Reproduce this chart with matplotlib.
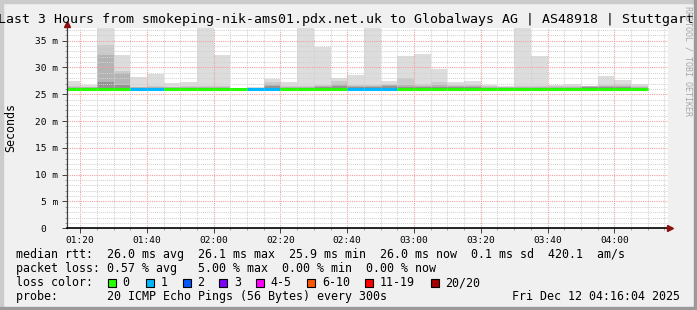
import matplotlib
matplotlib.use('Agg')
import matplotlib.pyplot as plt
from matplotlib.patches import Rectangle

# interval start times (5 min steps)
t_labels = ['01:15', '01:20', '01:25', '01:30', '01:35', '01:40', '01:45', '01:50', '01:55',
            '02:00', '02:05', '02:10', '02:15', '02:20', '02:25', '02:30', '02:35', '02:40',
            '02:45', '02:50', '02:55', '03:00', '03:05', '03:10', '03:15', '03:20', '03:25',
            '03:30', '03:35', '03:40', '03:45', '03:50', '03:55', '04:00', '04:05']

# median rtt (ms)
median = [26.0, 26.0, 26.0, 26.0, 25.9, 25.9, 26.0, 26.0, 26.0, 26.0, 25.9, 25.9, 25.9,
          26.0, 26.0, 26.0, 26.0, 25.9, 25.9, 25.9, 26.0, 26.0, 26.0, 26.0, 26.0, 26.0,
          26.0, 26.0, 26.0, 26.0, 26.0, 26.0, 26.0, 26.0, 26.0]

# lost pings per interval (index into loss colours)
loss = [0, 0, 0, 0, 1, 1, 0, 0, 0, 0, 0, 1, 1, 0, 0, 0, 0, 1, 1, 1,
        0, 0, 0, 0, 0, 0, 0, 0, 0, 0, 0, 0, 0, 0, 0]

# smoke bands (ms): min, outer top, upper, middle, core
smoke_min = [25.8, 25.8, 25.8, 25.8, 25.8, 25.8, 25.8, 25.8, 25.8, 25.8, 25.8, 25.8,
             25.8, 25.8, 25.8, 25.8, 25.8, 25.8, 25.8, 25.8, 25.8, 25.8, 25.8, 25.8,
             25.8, 25.8, 25.8, 25.8, 25.8, 25.8, 25.8, 25.8, 25.8, 25.8, 25.8]
smoke_max = [27.5, 26.7, 40.0, 32.3, 28.3, 28.7, 27.1, 27.2, 40.0, 32.3, 26.2, 26.3,
             27.8, 27.3, 40.0, 33.9, 28.1, 28.6, 40.0, 27.5, 32.1, 32.5, 29.8, 27.3,
             27.5, 26.7, 26.6, 40.0, 32.1, 26.7, 26.9, 26.6, 28.4, 27.7, 26.9]
smoke_hi = [26.6, 26.4, 34.2, 29.3, 26.4, 26.6, 26.4, 26.5, 26.6, 26.6, 26.1, 26.2,
            27.3, 26.6, 26.6, 26.7, 27.4, 26.8, 26.7, 27.0, 28.0, 26.9, 27.2, 26.7,
            26.8, 26.5, 26.4, 26.6, 26.6, 26.5, 26.6, 26.6, 26.8, 26.9, 26.6]
smoke_mid = [26.4, 26.3, 32.3, 29.0, 26.3, 26.4, 26.3, 26.3, 26.4, 26.4, 26.0, 26.1,
             26.9, 26.4, 26.4, 26.5, 27.0, 26.5, 26.5, 26.8, 26.8, 26.6, 26.8, 26.5,
             26.5, 26.4, 26.3, 26.4, 26.4, 26.4, 26.4, 26.5, 26.5, 26.6, 26.4]
smoke_core = [26.2, 26.1, 27.2, 26.7, 26.1, 26.2, 26.1, 26.1, 26.2, 26.2, 25.95, 26.0,
              26.5, 26.2, 26.2, 26.3, 26.5, 26.3, 26.3, 26.5, 26.4, 26.3, 26.4, 26.3,
              26.3, 26.2, 26.2, 26.2, 26.2, 26.2, 26.2, 26.4, 26.3, 26.3, 26.2]

loss_labels = ['0', '1', '2', '3', '4-5', '6-10', '11-19', '20/20']
loss_colors = ['#26ff00', '#00b8ff', '#0059ff', '#7e00ff', '#ff00ff', '#ff5500', '#ff0000', '#a00000']

x_ticks = ['01:20', '01:40', '02:00', '02:20', '02:40', '03:00', '03:20', '03:40', '04:00']
y_ticks = [0, 5, 10, 15, 20, 25, 30, 35]
y_ticklabels = ['0  ', '5 m', '10 m', '15 m', '20 m', '25 m', '30 m', '35 m']

title = 'Last 3 Hours from smokeping-nik-ams01.pdx.net.uk to Globalways AG | AS48918 | Stuttgart'
legend_lines = [
    'median rtt:  26.0 ms avg  26.1 ms max  25.9 ms min  26.0 ms now  0.1 ms sd  420.1  am/s',
    'packet loss: 0.57 % avg   5.00 % max  0.00 % min  0.00 % now',
    'loss color:',
    'probe:       20 ICMP Echo Pings (56 Bytes) every 300s',
]
stamp = 'Fri Dec 12 04:16:04 2025'


def to_min(s):
    h, m = s.split(':')
    return int(h) * 60 + int(m)


W, H = 697, 310
MONO = 'DejaVu Sans Mono'


def fx(x):
    return x / W


def fy(y):
    return 1 - y / H


fig = plt.figure(figsize=(W / 100, H / 100), dpi=100, facecolor='#f0f0f0')

# 3d frame
fig.patches.append(Rectangle((0, 0), fx(3), 1, transform=fig.transFigure, color='#cbcbcb'))
fig.patches.append(Rectangle((0, 1 - 3 / H), 1, 3 / H, transform=fig.transFigure, color='#cbcbcb'))
fig.patches.append(Rectangle((1 - 3 / W, 0), 3 / W, 1, transform=fig.transFigure, color='#9a9a9a'))
fig.patches.append(Rectangle((0, 0), 1, 3 / H, transform=fig.transFigure, color='#9a9a9a'))

x0, x1 = 67, 668
y0, y1 = 228.3, 28.3
ax = fig.add_axes([fx(x0), fy(y0), fx(x1 - x0), (y0 - y1) / H])
ax.set_facecolor('white')

starts = [to_min(s) for s in t_labels]
t_end = to_min('04:16') + 4 / 60.0
ax.set_xlim(t_end - 180, t_end)
ax.set_ylim(0, 37.3)

# smoke
layers = [(smoke_max, '#dddddd'), (smoke_hi, '#cacaca'), (smoke_mid, '#b4b4b4'), (smoke_core, '#939393')]
for tops, col in layers:
    heights = [t - b for t, b in zip(tops, smoke_min)]
    ax.bar(starts, heights, width=5, bottom=smoke_min, align='edge', color=col,
           linewidth=0, antialiased=False, zorder=1)

# median line coloured by loss
ax.hlines(median, starts, [s + 5 for s in starts], colors=[loss_colors[l] for l in loss],
          lw=2.2, zorder=4, capstyle='butt')

# grid
ax.set_xticks([to_min(s) for s in x_ticks])
ax.set_xticklabels(x_ticks)
ax.set_xticks(range(80, 256, 5), minor=True)
ax.set_yticks(y_ticks)
ax.set_yticklabels(y_ticklabels)
ax.set_yticks(range(0, 38), minor=True)
ax.set_axisbelow(False)
ax.grid(which='minor', color='#d2d2d2', lw=0.75, linestyle=(0, (1, 1)))
ax.grid(which='major', color='#f4a0a0', lw=0.8, linestyle=(0, (1, 1)))

for sp in ['top', 'right']:
    ax.spines[sp].set_visible(False)
ax.spines['left'].set_color('#404040')
ax.spines['bottom'].set_color('black')
ax.spines['left'].set_linewidth(0.9)
ax.spines['bottom'].set_linewidth(1.2)
ax.spines['left'].set_zorder(5)
ax.spines['bottom'].set_zorder(5)

ax.tick_params(which='major', length=3.5, width=0.7, color='#404040', pad=2,
               labelsize=6.8, labelfontfamily=MONO, labelcolor='black')
ax.tick_params(which='minor', length=1.5, width=0.6, color='#909090')
ax.tick_params(axis='y', which='major', pad=3)

# axis arrows
ax.plot([0], [1.02], marker='^', ms=5, color='#8b1010', transform=ax.transAxes, clip_on=False, zorder=6)
ax.plot([1.004], [0], marker='>', ms=5, color='#8b1010', transform=ax.transAxes, clip_on=False, zorder=6)

# texts
fig.text(fx(346.5), fy(19), title, family=MONO, fontsize=9.5, ha='center', va='center')
fig.text(fx(11), fy(128), 'Seconds', family=MONO, fontsize=8.4, rotation=90, ha='center', va='center')
fig.text(fx(688), fy(6), 'RRDTOOL / TOBI OETIKER', family=MONO, fontsize=6, color='#a8a8a8',
         rotation=270, ha='center', va='top')

baselines = [258.4, 272.4, 286.3, 300.0]
for line, b in zip(legend_lines, baselines):
    fig.text(fx(16), fy(b), line, family=MONO, fontsize=8.4, ha='left', va='baseline')
fig.text(fx(680), fy(300.0), stamp, family=MONO, fontsize=8.4, ha='right', va='baseline')

box_x = [108, 145.7, 182.7, 219.3, 256, 307.3, 365, 431]
for bx, lab, col in zip(box_x, loss_labels, loss_colors):
    fig.patches.append(Rectangle((fx(bx), fy(286.7)), 8 / W, 8 / H, transform=fig.transFigure,
                                 facecolor=col, edgecolor='black', lw=0.8))
    fig.text(fx(bx + 14.5), fy(286.3), lab, family=MONO, fontsize=8.4, ha='left', va='baseline')

fig.savefig('out.png', dpi=100, facecolor=fig.get_facecolor())
